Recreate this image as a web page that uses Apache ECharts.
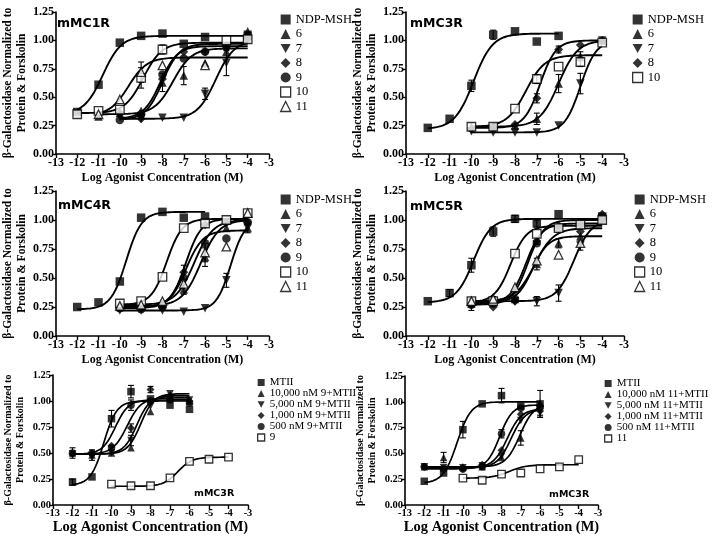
<!DOCTYPE html>
<html><head><meta charset="utf-8">
<script src="https://cdn.jsdelivr.net/npm/echarts@6/dist/echarts.min.js"></script>
<style>html,body{margin:0;padding:0;background:#fff}#c{width:714px;height:536px}</style>
</head><body><div id="c"></div>
<script>
// ---------- DATA ----------
const doses = [-12, -11, -10, -9, -8, -7, -6, -5, -4];   // log agonist concentration (M)
const xTicks = [-13, -12, -11, -10, -9, -8, -7, -6, -5, -4, -3];
const yTicks = [0, 0.25, 0.5, 0.75, 1.0, 1.25];

// Panel A: mMC1R
const mc1rNames = ['NDP-MSH', '6', '7', '8', '9', '10', '11'];
const mc1rValues = [
  [0.37, 0.61, 0.98, 1.04, 1.06, 0.97, 1.03, null, 1.04],
  [null, 0.33, 0.36, 0.38, 0.63, 0.69, 0.80, 0.90, 1.08],
  [null, null, 0.33, 0.31, 0.32, 0.32, 0.53, 0.80, 1.05],
  [null, null, 0.36, 0.31, 0.66, 0.90, 0.90, 0.93, 1.03],
  [null, null, 0.30, 0.35, 0.70, 0.84, 0.90, 0.95, 1.02],
  [0.35, 0.38, 0.39, 0.67, 0.92, null, null, 1.00, 1.01],
  [null, 0.35, 0.48, 0.72, 0.78, null, 0.78, null, null]
];
const mc1rErrors = [
  null,
  [null, null, null, null, 0.08, 0.08, null, null, null],
  [null, null, null, null, null, null, 0.05, 0.11, null],
  null, null,
  [null, null, null, 0.09, 0.04, null, null, null, null],
  [null, null, null, 0.09, null, null, null, null, null]
];
// fitted curves: [bottom, top, logEC50, hill]
const mc1rFits = [[0.35, 1.04, -10.8, 1], [0.35, 0.93, -7.5, 1], [0.31, 1.0, -5.5, 1], [0.31, 0.95, -8.1, 1.1], [0.30, 0.97, -8.0, 1.1], [0.36, 0.98, -8.9, 1], [0.34, 0.85, -9.6, 1]];
const mc1rSpans = [[-12, -4], [-11, -4], [-10, -4], [-10, -4], [-10, -4], [-12, -4], [-11, -4]];

// Panel B: mMC3R
const mc3rNames = ['NDP-MSH', '6', '7', '8', '10'];
const mc3rValues = [
  [0.23, 0.31, 0.60, 1.05, 1.08, 0.99, 1.04, null, null],
  [null, null, 0.24, 0.24, 0.25, 0.31, 0.62, 0.86, 1.00],
  [null, null, 0.20, 0.19, 0.19, 0.19, 0.25, 0.62, 1.00],
  [null, null, 0.22, 0.24, 0.26, 0.49, 0.92, 0.96, 1.00],
  [null, null, 0.24, 0.24, 0.40, 0.66, 0.77, 0.81, 0.98]
];
const mc3rErrors = [
  [null, null, 0.05, 0.04, null, null, null, null, null],
  [null, null, null, null, null, 0.05, 0.08, 0.04, null],
  [null, null, null, null, null, null, null, 0.09, null],
  [null, null, null, null, null, 0.04, 0.03, null, null],
  [null, null, null, null, null, 0.04, null, 0.04, null]
];
const mc3rFits = [[0.22, 1.06, -9.9, 1], [0.24, 1.0, -6.0, 1], [0.19, 1.0, -5.0, 1.2], [0.23, 1.0, -6.85, 1.2], [0.24, 0.87, -7.5, 1]];
const mc3rSpans = [[-12, -6], [-10, -4], [-10, -4], [-10, -4], [-10, -4]];

// Panel C: mMC4R
const mc4rNames = ['NDP-MSH', '6', '7', '8', '9', '10', '11'];
const mc4rValues = [
  [0.25, 0.29, 0.47, 1.02, 1.07, 1.02, 1.03, null, null],
  [null, null, 0.25, 0.26, 0.28, 0.40, 0.68, 0.93, 0.93],
  [null, null, 0.22, 0.22, 0.22, 0.21, 0.24, 0.48, 0.93],
  [null, null, 0.25, 0.24, 0.25, 0.55, 0.96, 0.98, 0.98],
  [null, null, 0.24, 0.23, 0.25, 0.50, 0.80, 0.84, 0.98],
  [null, null, 0.28, 0.30, 0.51, 0.93, 0.97, 1.00, 1.06],
  [null, null, 0.26, 0.27, 0.30, 0.45, 0.72, 0.77, 1.06]
];
const mc4rErrors = [
  null,
  [null, null, null, null, null, 0.04, 0.08, null, null],
  [null, null, null, null, null, null, null, 0.06, 0.04],
  [null, null, null, null, null, 0.06, null, null, null],
  null, null,
  [null, null, null, null, null, null, 0.08, null, null]
];
const mc4rFits = [[0.23, 1.07, -9.7, 1.2], [0.26, 1.0, -6.2, 1], [0.22, 1.0, -4.8, 1.3], [0.25, 1.01, -6.9, 1.2], [0.24, 0.91, -6.9, 1.1], [0.27, 1.01, -7.8, 1.2], [0.27, 1.0, -6.5, 1]];
const mc4rSpans = [[-12, -6], [-10, -4], [-10, -4], [-10, -4], [-10, -4], [-10, -4], [-10, -4]];

// Panel D: mMC5R
const mc5rNames = ['NDP-MSH', '6', '7', '8', '9', '10', '11'];
const mc5rValues = [
  [0.30, 0.37, 0.61, 0.90, 1.01, 0.97, 1.05, null, 1.03],
  [null, null, 0.28, 0.29, 0.32, 0.62, 0.80, 0.86, 1.00],
  [null, null, 0.30, 0.30, 0.30, 0.30, 0.37, 0.78, 1.00],
  [null, null, 0.27, 0.25, 0.30, 0.82, 0.95, 0.90, 1.05],
  [null, null, 0.27, 0.28, 0.32, 0.80, 0.92, 0.97, 1.02],
  [null, null, 0.30, 0.30, 0.71, 0.88, 0.93, 0.96, 1.00],
  [null, null, 0.30, 0.32, 0.42, 0.65, 0.70, 0.80, null]
];
const mc5rErrors = [
  [null, 0.03, 0.06, 0.04, 0.03, 0.03, null, null, null],
  [null, null, null, null, null, 0.05, 0.04, null, null],
  [null, null, null, null, null, 0.04, 0.07, 0.04, null],
  [null, null, null, null, null, 0.03, null, null, null],
  [null, null, 0.05, null, null, null, null, 0.04, null],
  [null, null, null, 0.04, null, null, null, null, null],
  null
];
const mc5rFits = [[0.29, 1.01, -9.9, 1.1], [0.29, 0.86, -7.2, 1.2], [0.30, 1.0, -5.3, 1.1], [0.27, 1.0, -7.4, 1.2], [0.28, 0.97, -7.5, 1.2], [0.29, 0.95, -8.2, 1.2], [0.30, 0.93, -7.1, 1]];
const mc5rSpans = [[-12, -4], [-10, -4], [-10, -4], [-10, -4], [-10, -4], [-10, -4], [-10, -4]];

// Panel E: mMC3R, MTII with antagonist 9
const anta9Names = ['MTII', '10,000 nM 9+MTII', '5,000 nM 9+MTII', '1,000 nM 9+MTII', '500 nM 9+MTII', '9'];
const anta9Values = [
  [0.22, 0.27, 0.83, 1.09, 1.02, 0.96, 0.92, null, null],
  [0.50, 0.48, 0.50, 0.55, 0.90, 1.05, 1.00, null, null],
  [0.49, 0.46, 0.50, 0.62, 0.95, 1.07, 1.01, null, null],
  [0.49, 0.49, 0.57, 0.74, 1.11, 1.05, 1.00, null, null],
  [0.50, 0.50, 0.55, 0.96, 1.00, 1.01, 0.98, null, null],
  [null, null, 0.20, 0.185, 0.185, 0.26, 0.42, 0.44, 0.46]
];
const anta9Errors = [
  [0.03, null, 0.08, 0.06, null, null, null, null, null],
  [0.05, 0.05, null, null, null, null, null, null, null],
  [null, null, null, 0.05, null, null, null, null, null],
  [null, null, null, 0.04, 0.03, null, null, null, null],
  [null, null, null, 0.05, null, null, null, null, null],
  null
];
const anta9Fits = [[0.19, 1.0, -10.4, 1.3], [0.49, 1.07, -8.5, 1.3], [0.49, 1.05, -8.7, 1.3], [0.49, 1.03, -9.2, 1.2], [0.49, 1.01, -9.8, 1.3], [0.18, 0.46, -6.6, 1.2]];
const anta9Spans = [[-12, -6], [-12, -6], [-12, -6], [-12, -6], [-12, -6], [-10, -4]];

// Panel F: mMC3R, MTII with antagonist 11
const anta11Names = ['MTII', '10,000 nM 11+MTII', '5,000 nM 11+MTII', '1,000 nM 11+MTII', '500 nM 11+MTII', '11'];
const anta11Values = [
  [0.23, 0.31, 0.73, 0.98, 1.06, 0.96, 0.98, null, null],
  [0.37, 0.46, 0.37, 0.37, 0.46, 0.65, 0.99, null, null],
  [0.37, 0.36, 0.36, 0.38, 0.47, 0.82, 0.90, null, null],
  [0.37, null, 0.35, 0.39, 0.53, 0.88, 0.91, null, null],
  [0.37, 0.35, 0.35, 0.37, 0.69, 0.94, 0.95, null, null],
  [null, null, 0.26, 0.24, 0.30, 0.31, 0.35, 0.37, 0.44]
];
const anta11Errors = [
  [null, null, 0.08, null, 0.07, null, null, null, null],
  [null, 0.05, null, null, null, 0.07, 0.12, null, null],
  [null, null, null, null, null, null, 0.05, null, null],
  [null, null, null, null, null, null, 0.06, null, null],
  [null, null, null, null, 0.04, null, null, null, null],
  null
];
const anta11Fits = [[0.21, 1.0, -10.3, 1.2], [0.37, 0.98, -7.05, 1.2], [0.36, 0.93, -7.5, 1.2], [0.36, 0.93, -7.7, 1.2], [0.35, 0.97, -8.1, 1.3], [0.26, 0.39, -7.6, 1]];
const anta11Spans = [[-12, -6], [-12, -6], [-12, -6], [-12, -6], [-12, -6], [-10, -4]];

const xTitle = 'Log Agonist Concentration (M)';
const yTitle = 'β-Galactosidase Normalized to\nProtein & Forskolin';

// ---------- STYLE / LAYOUT ----------
const SERIF = 'Liberation Serif';
const MARK = {
  sq:   {symbol: 'rect', fill: '#000'},
  tri:  {symbol: 'triangle', fill: '#000'},
  dtri: {symbol: 'path://M0,0L10,0L5,9Z', fill: '#000'},
  dia:  {symbol: 'diamond', fill: '#000'},
  circ: {symbol: 'circle', fill: '#000'},
  osq:  {symbol: 'rect', fill: '#fff'},
  otri: {symbol: 'triangle', fill: '#fff'}
};
const marks7 = ['sq', 'tri', 'dtri', 'dia', 'circ', 'osq', 'otri'];
const panels = [
  {names: mc1rNames, values: mc1rValues, errors: mc1rErrors, fits: mc1rFits, spans: mc1rSpans, marks: marks7,
   label: 'mMC1R', g: [54, 12, 215, 142], lab: [57, 25], leg: [280, 13], big: true},
  {names: mc3rNames, values: mc3rValues, errors: mc3rErrors, fits: mc3rFits, spans: mc3rSpans, marks: ['sq', 'tri', 'dtri', 'dia', 'osq'],
   label: 'mMC3R', g: [406, 12, 218, 142], lab: [410, 25], leg: [632, 13], big: true},
  {names: mc4rNames, values: mc4rValues, errors: mc4rErrors, fits: mc4rFits, spans: mc4rSpans, marks: marks7,
   label: 'mMC4R', g: [54, 191, 215, 145], lab: [58, 207], leg: [280, 193], big: true},
  {names: mc5rNames, values: mc5rValues, errors: mc5rErrors, fits: mc5rFits, spans: mc5rSpans, marks: marks7,
   label: 'mMC5R', g: [406, 191, 218, 145], lab: [410, 208], leg: [634, 193], big: true},
  {names: anta9Names, values: anta9Values, errors: anta9Errors, fits: anta9Fits, spans: anta9Spans, marks: ['sq', 'tri', 'dtri', 'dia', 'circ', 'osq'],
   label: 'mMC3R', g: [53, 375, 195, 130], lab: [194, 495], leg: [257, 377], big: false},
  {names: anta11Names, values: anta11Values, errors: anta11Errors, fits: anta11Fits, spans: anta11Spans, marks: ['sq', 'tri', 'dtri', 'dia', 'circ', 'osq'],
   label: 'mMC3R', g: [405, 376, 193, 129], lab: [549, 496], leg: [604, 378], big: false}
];

const grid = [], xAxis = [], yAxis = [], series = [], legend = [], graphic = [];

function errRender(params, api) {
  const x = api.value(0), y = api.value(1), e = api.value(2);
  const hi = api.coord([x, y + e]), lo = api.coord([x, y - e]);
  const c = 3, st = {stroke: '#000', lineWidth: 1.1};
  return {type: 'group', children: [
    {type: 'line', shape: {x1: hi[0], y1: hi[1], x2: lo[0], y2: lo[1]}, style: st},
    {type: 'line', shape: {x1: hi[0] - c, y1: hi[1], x2: hi[0] + c, y2: hi[1]}, style: st},
    {type: 'line', shape: {x1: lo[0] - c, y1: lo[1], x2: lo[0] + c, y2: lo[1]}, style: st}
  ]};
}

panels.forEach((p, i) => {
  const big = p.big;
  const tickFont = big ? 12 : 10.5;
  grid.push({left: p.g[0], top: p.g[1], width: p.g[2], height: p.g[3]});
  const axisLine = {show: true, onZero: false, lineStyle: {color: '#000', width: 1.6}};
  const axisTick = {show: true, length: 4, lineStyle: {color: '#000', width: 1.4}};
  xAxis.push({
    gridIndex: i, type: 'value', min: xTicks[0], max: xTicks[xTicks.length - 1], interval: 1,
    axisLine, axisTick, splitLine: {show: false},
    axisLabel: {color: '#000', fontFamily: SERIF, fontWeight: 'bold', fontSize: tickFont, margin: 3},
    name: xTitle, nameLocation: 'middle', nameGap: big ? 18 : 13,
    nameTextStyle: {color: '#000', fontFamily: SERIF, fontWeight: 'bold', fontSize: big ? 12 : 14.5}
  });
  yAxis.push({
    gridIndex: i, type: 'value', min: yTicks[0], max: yTicks[yTicks.length - 1], interval: 0.25,
    axisLine, axisTick, splitLine: {show: false},
    axisLabel: {color: '#000', fontFamily: SERIF, fontWeight: 'bold', fontSize: big ? 12 : 10.5, margin: 2,
      formatter: v => v.toFixed(2)},
    name: yTitle, nameLocation: 'middle', nameRotate: 90, nameGap: big ? 24 : 27,
    nameTextStyle: {color: '#000', fontFamily: SERIF, fontWeight: 'bold', fontSize: big ? 11.5 : 10, lineHeight: big ? 14 : 12}
  });
  const legData = [];
  p.names.forEach((nm, k) => {
    const id = 'p' + i + '|' + nm;
    const mk = MARK[p.marks[k]];
    const open = mk.fill === '#fff';
    const f = p.fits[k], sp = p.spans[k];
    const pts = [];
    for (let x = sp[0]; x <= sp[1] + 1e-9; x += 0.05) {
      pts.push([x, f[0] + (f[1] - f[0]) / (1 + Math.pow(10, (f[2] - x) * f[3]))]);
    }
    series.push({type: 'line', name: 'fit' + id, xAxisIndex: i, yAxisIndex: i, data: pts, showSymbol: false,
      smooth: false, lineStyle: {color: '#000', width: big ? 1.9 : 1.7}, z: 2, silent: true, animation: false});
    const errs = p.errors[k];
    if (errs) {
      const ed = [];
      doses.forEach((d, j) => { if (errs[j] != null && p.values[k][j] != null) ed.push([d, p.values[k][j], errs[j]]); });
      series.push({type: 'custom', name: 'err' + id, xAxisIndex: i, yAxisIndex: i, data: ed,
        encode: {x: 0, y: 1}, renderItem: errRender, z: 3, silent: true, animation: false});
    }
    const sd = [];
    doses.forEach((d, j) => { if (p.values[k][j] != null) sd.push([d, p.values[k][j]]); });
    const style = {color: mk.fill, borderColor: '#000', borderWidth: open ? 1.3 : 0};
    series.push({type: 'scatter', name: id, xAxisIndex: i, yAxisIndex: i, data: sd,
      symbol: mk.symbol, symbolSize: big ? (p.marks[k] === 'dia' ? 9 : 8.5) : (p.marks[k] === 'dia' ? 8 : 7.5),
      itemStyle: style, z: 4, animation: false});
    legData.push({name: id, icon: mk.symbol, itemStyle: style});
  });
  legend.push({
    data: legData, orient: 'vertical', left: p.leg[0], top: p.leg[1], selectedMode: false, padding: 0,
    itemWidth: big ? 10 : 7, itemHeight: big ? 10 : 7, itemGap: big ? 1.5 : 0,
    formatter: n => n.split('|')[1],
    textStyle: {color: '#000', fontFamily: SERIF, fontSize: big ? 12.5 : 11}
  });
  graphic.push({type: 'text', left: p.lab[0], top: p.lab[1] - (big ? 8 : 6),
    style: {text: p.label, fill: '#000', font: 'bold ' + (big ? 12.5 : 9.5) + 'px "DejaVu Sans"'}});
});

const chart = echarts.init(document.getElementById('c'), null, {renderer: 'canvas'});
chart.setOption({animation: false, backgroundColor: '#fff', grid, xAxis, yAxis, series, legend, graphic, tooltip: {show: false}});
</script></body></html>
